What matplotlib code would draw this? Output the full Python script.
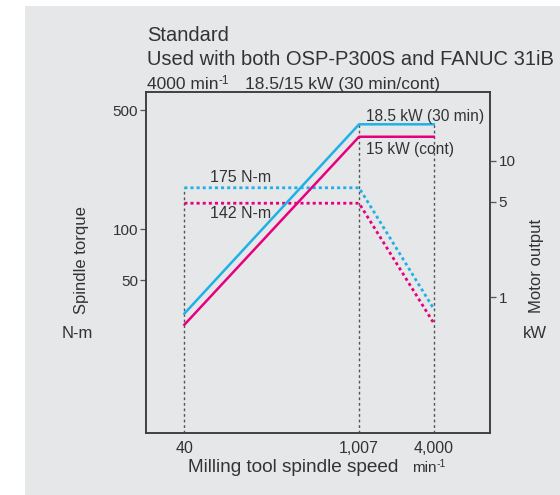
import matplotlib
matplotlib.use("Agg")
import matplotlib.pyplot as plt
from matplotlib.patches import Rectangle

plt.rcParams['font.family'] = ['Liberation Sans', 'DejaVu Sans']

# data
speed = [40, 1007, 4000]
torque_30min = [175, 175, 34]
torque_cont = [142, 142, 28]
power_30min = [0.76, 18.5, 18.5]
power_cont = [0.63, 15, 15]

x_ticks = [40, 1007, 4000]
x_ticklabels = ["40", "1,007", "4,000"]
torque_ticks = [50, 100, 500]
power_ticks = [1, 5, 10]

BLUE = "#1eb1e7"
PINK = "#e6007e"
TXT = "#333333"
GRID = "#555555"
BG = "#e6e7e9"

W, H = 560, 495


def fx(px):
    return px / W


def fy(py):
    return 1 - py / H


fig = plt.figure(figsize=(5.6, 4.95), dpi=100)
fig.patches.append(Rectangle((fx(25), 0), 1, fy(6), transform=fig.transFigure,
                             facecolor=BG, edgecolor='none', zorder=-10))

ax = fig.add_axes([fx(146), 62 / H, 344 / W, 341 / H])
ax.set_facecolor('none')
ax.set_xscale('log')
ax.set_yscale('log')
ax.set_xlim(19.7, 11300)
ax.set_ylim(6.33, 640)

ax2 = ax.twinx()
ax2.set_yscale('log')
ax2.set_ylim(0.1015, 31.9)

# torque (dotted, left axis)
dots = (0, (1.1, 1.1))
ax.plot(speed, torque_30min, color=BLUE, lw=2, linestyle=dots, dash_capstyle='butt', zorder=3)
ax.plot(speed, torque_cont, color=PINK, lw=2, linestyle=dots, dash_capstyle='butt', zorder=3)

# power (solid, right axis)
ax2.plot(speed, power_30min, color=BLUE, lw=1.8, zorder=3)
ax2.plot(speed, power_cont, color=PINK, lw=1.8, zorder=3)

# gray reference lines
ref = (0, (2, 2))
ax.vlines(speed[0], ax.get_ylim()[0], torque_30min[0], color=GRID, lw=1, linestyle=ref, zorder=1)
ax2.vlines(speed[1:], ax2.get_ylim()[0], power_30min[1], color=GRID, lw=1, linestyle=ref, zorder=1)

# annotations
ax.text(64, 202, "175 N-m", fontsize=11.5, color=TXT, va='center', ha='left')
ax.text(64, 124, "142 N-m", fontsize=11.5, color=TXT, va='center', ha='left')
ax2.text(1140, 21, "18.5 kW (30 min)", fontsize=11.2, color=TXT, va='center', ha='left')
ax2.text(1140, 12.1, "15 kW (cont)", fontsize=11.2, color=TXT, va='center', ha='left')

# ticks
ax.set_xticks(x_ticks)
ax.set_xticklabels(x_ticklabels)
ax.xaxis.set_minor_locator(matplotlib.ticker.NullLocator())
ax.tick_params(axis='x', length=0, pad=6, labelsize=11.5, labelcolor=TXT)

ax.set_yticks(torque_ticks)
ax.set_yticklabels([str(t) for t in torque_ticks])
ax.yaxis.set_minor_locator(matplotlib.ticker.NullLocator())
ax.tick_params(axis='y', length=4.3, width=0.9, pad=1.5, labelsize=11, labelcolor=TXT, color=GRID)

ax2.set_yticks(power_ticks)
ax2.set_yticklabels([str(t) for t in power_ticks])
ax2.yaxis.set_minor_locator(matplotlib.ticker.NullLocator())
ax2.tick_params(axis='y', length=4.3, width=0.9, pad=2, labelsize=11, labelcolor=TXT, color=GRID)

for a in (ax, ax2):
    for s in a.spines.values():
        s.set_color("#3c3c3c")
        s.set_linewidth(1.1)

# axis labels
fig.text(fx(81), fy(260), "Spindle torque", rotation=90, fontsize=12, color=TXT,
         ha='center', va='center')
fig.text(fx(77), fy(333), "N-m", fontsize=12, color=TXT, ha='center', va='center')
fig.text(fx(536), fy(266), "Motor output", rotation=90, fontsize=12, color=TXT,
         ha='center', va='center')
fig.text(fx(535), fy(333), "kW", fontsize=12, color=TXT, ha='center', va='center')
fig.text(fx(293.5), fy(471.5), "Milling tool spindle speed", fontsize=13.7, color=TXT,
         ha='center', va='baseline')
fig.text(fx(412), fy(471.5), "min", fontsize=11, color=TXT, ha='left', va='baseline')
fig.text(fx(436.5), fy(467), "-1", fontsize=7.5, color=TXT, ha='left', va='baseline')

# titles
fig.text(fx(147), fy(41), "Standard", fontsize=14.5, color=TXT, va='baseline')
fig.text(fx(147), fy(65), "Used with both OSP-P300S and FANUC 31iB", fontsize=14.5,
         color=TXT, va='baseline')
fig.text(fx(147), fy(89), "4000 min", fontsize=12.5, color=TXT, va='baseline')
fig.text(fx(218.5), fy(84), "-1", fontsize=8.5, color=TXT, va='baseline')
fig.text(fx(245), fy(89), "18.5/15 kW (30 min/cont)", fontsize=12.5, color=TXT, va='baseline')

fig.savefig("out.png", dpi=100)
